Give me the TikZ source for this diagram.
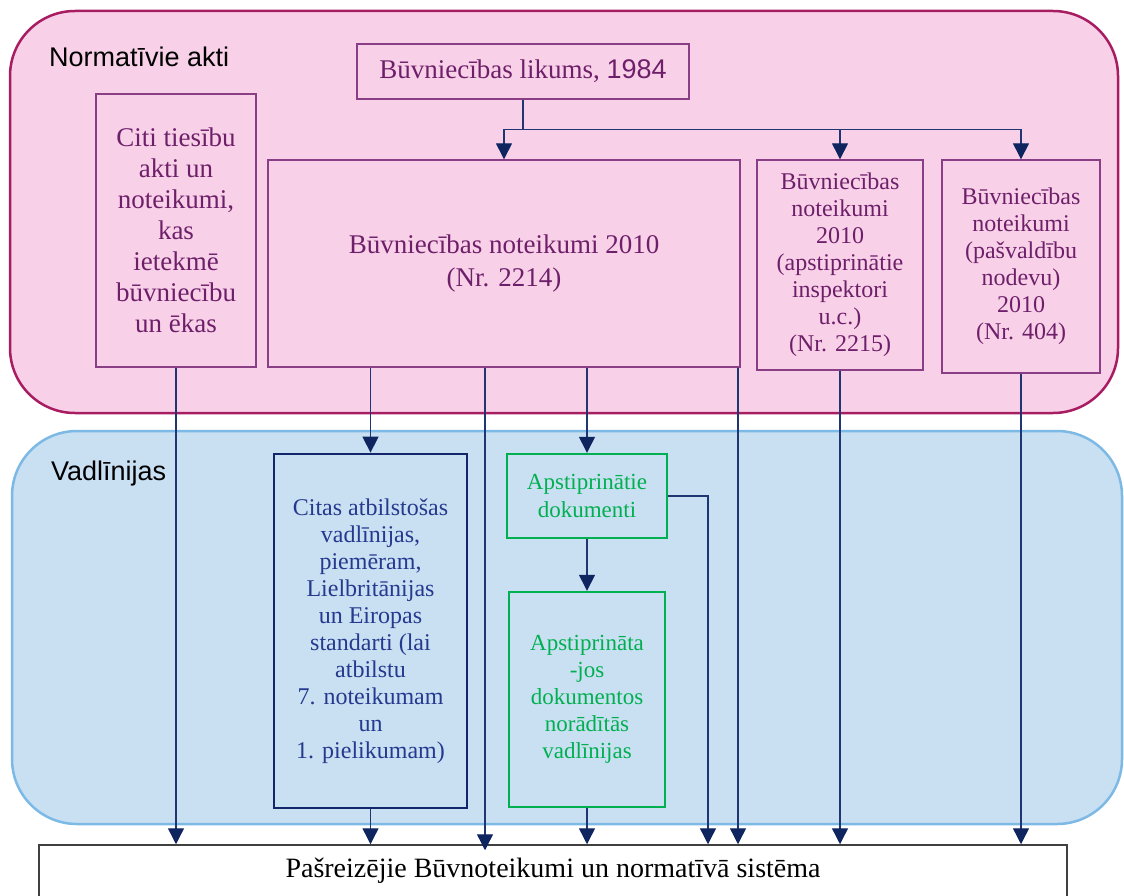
\documentclass[tikz,border=0pt]{standalone}
\usepackage{fontspec}
\setmainfont{Liberation Serif}
\newfontfamily\arialf{Liberation Sans}
\usetikzlibrary{arrows.meta}
\definecolor{pinkfill}{HTML}{F8D1E8}
\definecolor{pinkline}{HTML}{A81C62}
\definecolor{bluefill}{HTML}{C9DFF2}
\definecolor{blueline}{HTML}{7DB9E5}
\definecolor{purptext}{HTML}{6E1F6A}
\definecolor{purpline}{HTML}{8A3E86}
\definecolor{navy}{HTML}{1F3672}
\definecolor{headnavy}{HTML}{0F2560}
\definecolor{greenc}{HTML}{00B050}
\definecolor{citasline}{HTML}{13266B}
\definecolor{citastext}{HTML}{253A8E}
\begin{document}
\begin{tikzpicture}[x=1pt,y=-1pt,
  region/.style={rounded corners=65pt, line width=2.5pt},
  ttl/.style={font=\arialf\fontsize{27}{32}\selectfont, anchor=west, text=black, inner sep=0pt},
  pbox/.style={draw=purpline, line width=1.4pt, text=purptext, align=center, inner sep=0pt},
  gbox/.style={draw=greenc, line width=2.4pt, text=greenc, align=center, inner sep=0pt, fill=bluefill},
  arr/.style={draw=navy, line width=1.4pt, -{Triangle[width=16pt,length=16pt,color=headnavy]}}
]
\useasboundingbox (0,0) rectangle (1124,896);
% regions
\draw[region, draw=pinkline, fill=pinkfill] (10,11) rectangle (1118,413);
\draw[region, draw=blueline, fill=bluefill] (12,431) rectangle (1122,824);
\node[ttl] (t1) at (49,57) {Normatīvie akti};
\node[ttl] (t2) at (51,474) {Vadlīnijas};
% top boxes
\node[pbox, minimum width=332pt, minimum height=55pt, font=\fontsize{27}{32}\selectfont] (lik) at (523,71.5) {Būvniecības likums, {\arialf 1984}};
\node[pbox, minimum width=160pt, minimum height=273pt, font=\fontsize{27}{31}\selectfont] (citi) at (176,230.5)
  {Citi tiesību\\akti un\\noteikumi,\\kas\\ietekmē\\būvniecību\\un ēkas};
\node[pbox, minimum width=472pt, minimum height=207pt, font=\fontsize{27}{33}\selectfont] (n2214) at (504,263.5)
  {Būvniecības noteikumi 2010\\(Nr. 2214)};
\node[pbox, minimum width=166pt, minimum height=210pt, font=\fontsize{24}{27}\selectfont] (n2215) at (840,265)
  {Būvniecības\\noteikumi\\2010\\(apstiprinātie\\inspektori\\u.c.)\\(Nr. 2215)};
\node[pbox, minimum width=158pt, minimum height=213pt, font=\fontsize{24}{27}\selectfont] (n404) at (1021,266.5)
  {Būvniecības\\noteikumi\\(pašvaldību\\nodevu)\\2010\\(Nr. 404)};
% guideline boxes
\node[draw=citasline, line width=2.8pt, text=citastext, align=center, inner sep=0pt,
  minimum width=193pt, minimum height=354pt, font=\fontsize{24}{27}\selectfont] (citas) at (370.5,631)
  {Citas atbilstošas\\vadlīnijas,\\piemēram,\\Lielbritānijas\\un Eiropas\\standarti (lai\\atbilstu\\7. noteikumam\\un\\1. pielikumam)};
\node[gbox, minimum width=160pt, minimum height=84pt, font=\fontsize{23}{28}\selectfont] (apd) at (587,496)
  {Apstiprinātie\\dokumenti};
\node[gbox, minimum width=156pt, minimum height=215pt, font=\fontsize{23}{27}\selectfont] (apv) at (587,699.5)
  {Apstiprināta\\-jos\\dokumentos\\norādītās\\vadlīnijas};
% final box
\node[draw=black!75, line width=1.5pt, fill=white, inner sep=0pt, minimum width=1028pt, minimum height=52pt,
  font=\fontsize{28}{32}\selectfont] (final) at (553,871) {Pašreizējie Būvnoteikumi un normatīvā sistēma};
% helper coordinates
\coordinate (x485) at (485,0);
\coordinate (x738) at (738,0);
\coordinate (x708) at (708,0);
% connectors from likums
\draw[arr] (lik.south) -- ++(0,30) -| (n2214.north);
\draw[arr] (lik.south) -- ++(0,30) -| (n2215.north);
\draw[arr] (lik.south) -- ++(0,30) -| (n404.north);
% connectors down
\draw[arr] (citi.south) -- (citi.south |- final.north);
\draw[arr] (n2214.south -| citas.north) -- (citas.north);
\draw[arr] (n2214.south -| x485) -- ([yshift=-6pt]final.north -| x485);
\draw[arr] (n2214.south -| apd.north) -- (apd.north);
\draw[arr] (n2214.south -| x738) -- (final.north -| x738);
\draw[arr] (n2215.south) -- (n2215.south |- final.north);
\draw[arr] (n404.south) -- (n404.south |- final.north);
\draw[arr] (citas.south) -- (citas.south |- final.north);
\draw[arr] (apd.south) -- (apv.north);
\draw[arr] (apv.south) -- (apv.south |- final.north);
\draw[arr] (apd.east) -- (apd.east -| x708) -- (final.north -| x708);
\end{tikzpicture}
\end{document}
